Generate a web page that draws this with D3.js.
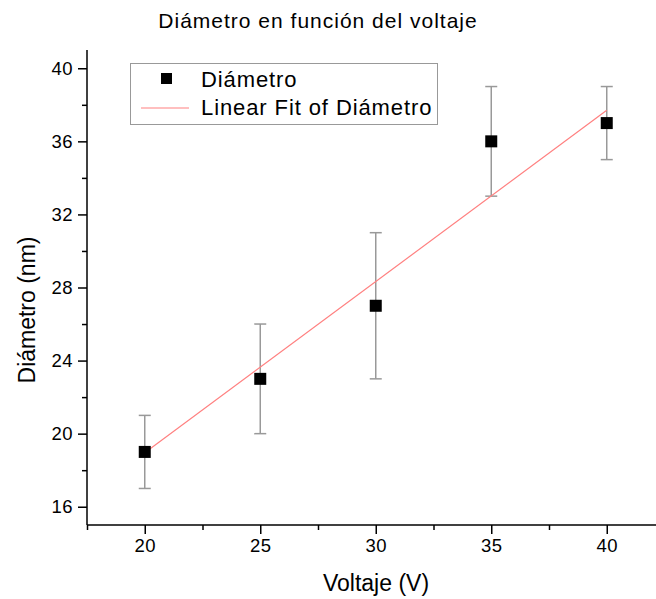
<!DOCTYPE html>
<html>
<head>
<meta charset="utf-8">
<script src="https://cdn.jsdelivr.net/npm/d3@7"></script>
<style>
body { margin: 0; background: #fff; }
svg { display: block; font-family: "Liberation Sans", Arial, sans-serif; }
</style>
</head>
<body>
<div id="chart"></div>
<script>
// data
var voltaje = [20, 25, 30, 35, 40];
var diametro = [19, 23, 27, 36, 37];
var errDiametro = [2, 3, 4, 3, 2];
var fitX = [20, 40];
var fitY = [18.95, 37.7];
var xTicks = [20, 25, 30, 35, 40];
var yTicks = [16, 20, 24, 28, 32, 36, 40];

var W = 656, H = 599;
var margin = { left: 87, top: 50, bottom: 74 };

var svg = d3.select("#chart").append("svg")
    .attr("width", W)
    .attr("height", H);

var x = d3.scaleLinear().domain([17.5, 42.5]).range([margin.left, margin.left + 25 * 23.1]);
var y = d3.scaleLinear().domain([15, 41]).range([H - margin.bottom, margin.top]);

// minor ticks
var xMinor = d3.range(17.5, 42.6, 2.5).filter(function (d) { return xTicks.indexOf(d) < 0; });
var yMinor = d3.range(18, 41, 4);

var gx = svg.append("g").attr("transform", "translate(0," + y(15) + ")");
gx.call(d3.axisBottom(x).tickValues(xMinor).tickSize(5).tickFormat(""));
gx.select(".domain").remove();
var gx2 = svg.append("g").attr("transform", "translate(0," + y(15) + ")");
gx2.call(d3.axisBottom(x).tickValues(xTicks).tickSize(9).tickPadding(5).tickFormat(d3.format("d")));

var gy = svg.append("g").attr("transform", "translate(" + x(17.5) + ",0)");
gy.call(d3.axisLeft(y).tickValues(yMinor).tickSize(5).tickFormat(""));
gy.select(".domain").remove();
var gy2 = svg.append("g").attr("transform", "translate(" + x(17.5) + ",0)");
gy2.call(d3.axisLeft(y).tickValues(yTicks).tickSize(9).tickPadding(5).tickFormat(d3.format("d")));

// plain axis lines, no end caps
gx2.select(".domain").attr("d", "M" + x(17.5) + ",0H" + W);
gy2.select(".domain").attr("d", "M0," + y(41) + "V" + y(15));
svg.selectAll(".domain").attr("stroke", "#000").attr("stroke-width", 1.5);
svg.selectAll(".tick line").attr("stroke", "#000").attr("stroke-width", 1.5);
svg.selectAll(".tick text").attr("font-size", 18.5).attr("fill", "#000")
    .attr("letter-spacing", 0.5)
    .attr("font-family", "Liberation Sans, Arial, sans-serif");

// error bars
var eb = svg.append("g");
voltaje.forEach(function (v, i) {
    var lo = diametro[i] - errDiametro[i], hi = diametro[i] + errDiametro[i];
    eb.append("line").attr("x1", x(v)).attr("x2", x(v)).attr("y1", y(lo)).attr("y2", y(hi))
        .attr("stroke", "#999").attr("stroke-width", 1.5);
    [lo, hi].forEach(function (e) {
        eb.append("line").attr("x1", x(v) - 6).attr("x2", x(v) + 6).attr("y1", y(e)).attr("y2", y(e))
            .attr("stroke", "#999").attr("stroke-width", 1.5);
    });
});

// linear fit
svg.append("line")
    .attr("x1", x(fitX[0])).attr("y1", y(fitY[0]))
    .attr("x2", x(fitX[1])).attr("y2", y(fitY[1]))
    .attr("stroke", "#ff8080").attr("stroke-width", 1.2);

// points
svg.selectAll("rect.pt").data(voltaje).enter().append("rect")
    .attr("class", "pt")
    .attr("x", function (d) { return x(d) - 6; })
    .attr("y", function (d, i) { return y(diametro[i]) - 6; })
    .attr("width", 12).attr("height", 12)
    .attr("fill", "#000");

// legend
var lg = svg.append("g");
lg.append("rect").attr("x", 130.5).attr("y", 63.5).attr("width", 307).attr("height", 61)
    .attr("fill", "#fff").attr("stroke", "#999").attr("stroke-width", 1);
lg.append("rect").attr("x", 161).attr("y", 73).attr("width", 11).attr("height", 11).attr("fill", "#000");
lg.append("line").attr("x1", 141).attr("x2", 189).attr("y1", 108).attr("y2", 108)
    .attr("stroke", "#ff8080").attr("stroke-width", 1.2);
lg.append("text").attr("x", 201).attr("y", 87).attr("font-size", 22).attr("letter-spacing", 0.9).text("Diámetro");
lg.append("text").attr("x", 201).attr("y", 115).attr("font-size", 22).attr("letter-spacing", 0.9).text("Linear Fit of Diámetro");

// titles
svg.append("text").attr("x", 318).attr("y", 28).attr("text-anchor", "middle")
    .attr("font-size", 21).attr("letter-spacing", 1).text("Diámetro en función del voltaje");
svg.append("text").attr("x", 376).attr("y", 591).attr("text-anchor", "middle")
    .attr("font-size", 23).text("Voltaje (V)");
svg.append("text").attr("transform", "translate(35,310) rotate(-90)").attr("text-anchor", "middle")
    .attr("font-size", 23).text("Diámetro (nm)");
</script>
</body>
</html>
